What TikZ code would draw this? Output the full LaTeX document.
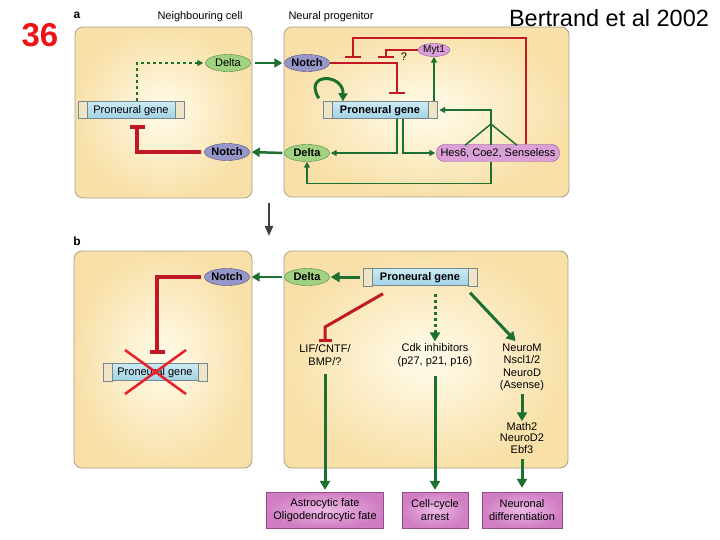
\documentclass[tikz,border=0pt]{standalone}
\usepackage{fontspec}
\setmainfont{Liberation Sans}
\usetikzlibrary{arrows.meta, shapes.geometric, positioning}

\definecolor{panelin}{RGB}{255,252,236}
\definecolor{panelout}{RGB}{248,224,168}
\definecolor{panelline}{RGB}{170,160,140}
\definecolor{dkgreen}{RGB}{28,112,48}
\definecolor{inhred}{RGB}{192,24,36}
\definecolor{xred}{RGB}{232,30,40}
\definecolor{deltafill}{RGB}{160,210,130}
\definecolor{deltaline}{RGB}{80,135,70}
\definecolor{notchfill}{RGB}{150,150,200}
\definecolor{notchline}{RGB}{80,80,130}
\definecolor{mytfill}{RGB}{218,160,215}
\definecolor{mytline}{RGB}{150,80,150}
\definecolor{genetop}{RGB}{205,235,245}
\definecolor{genebot}{RGB}{160,210,228}
\definecolor{geneline}{RGB}{120,135,140}
\definecolor{capfill}{RGB}{238,228,198}
\definecolor{boxin}{RGB}{236,185,228}
\definecolor{boxout}{RGB}{208,125,195}
\definecolor{boxline}{RGB}{150,75,140}
\definecolor{numred}{RGB}{236,20,20}

\newcommand\lblfont{\fontsize{11}{12.5}\selectfont}
\newcommand\genebar[5]{%
  \node[gene, minimum width=#3, font=#4] (#1) at #2 {#5};
  \path[genecap] (#1.north west) rectangle ([xshift=9pt]#1.south west);
  \path[genecap] (#1.north east) rectangle ([xshift=-9pt]#1.south east);
}

\begin{document}
\begin{tikzpicture}[x=1pt, y=-1pt,
  panel/.style={rounded corners=8pt, inner color=panelin, outer color=panelout, draw=panelline, line width=0.8pt},
  gene/.style={rectangle, draw=geneline, top color=genetop, bottom color=genebot, minimum height=17pt, inner sep=0pt, text height=8pt, text depth=1pt},
  genecap/.style={fill=capfill, draw=geneline, line width=0.4pt},
  delta/.style={ellipse, draw=deltaline, fill=deltafill, minimum width=45pt, minimum height=17pt, inner sep=0pt, font=\lblfont},
  notch/.style={ellipse, draw=notchline, fill=notchfill, minimum width=45pt, minimum height=17pt, inner sep=0pt, font=\lblfont\bfseries},
  pinkpill/.style={rectangle, rounded corners=8pt, draw=mytline, fill=mytfill, minimum height=17pt, inner sep=1pt, font=\lblfont},
  fatebox/.style={rectangle, draw=boxline, inner color=boxin, outer color=boxout, minimum height=36pt, inner sep=1pt, align=center, font=\lblfont},
  txt/.style={align=center, inner sep=1pt, font=\lblfont},
  gthin/.style={draw=dkgreen, line width=1.5pt, -{Triangle[width=6pt,length=6pt]}},
  gmid/.style={draw=dkgreen, line width=2.5pt, -{Triangle[width=9pt,length=8pt]}},
  gthick/.style={draw=dkgreen, line width=3pt, -{Triangle[width=10pt,length=9pt]}},
  rthin/.style={draw=inhred, line width=1.5pt, -{Bar[width=16pt]}},
  rthick/.style={draw=inhred, line width=4pt, -{Bar[width=15pt]}},
]
\useasboundingbox (0,0) rectangle (720,540);

% headings
\node[text=numred, font=\fontsize{33}{33}\selectfont\bfseries] (slideno) at (40,35) {36};
\node[font=\fontsize{23.5}{23.5}\selectfont] (cite) at (609,18) {Bertrand et al 2002};
\node[font=\fontsize{12}{12}\selectfont\bfseries] (labA) at (77,15) {a};
\node[font=\fontsize{12}{12}\selectfont\bfseries] (labB) at (77,241) {b};
\node[font=\lblfont] (hdNeigh) at (200,17) {Neighbouring cell};
\node[font=\lblfont] (hdProg) at (331,17) {Neural progenitor};

% cells
\path[panel] (75,27) rectangle (252,198);
\path[panel] (284,27) rectangle (569,197);
\path[panel] (74,251) rectangle (252,468);
\path[panel] (284,251) rectangle (568,468);

% a: neighbouring cell
\node[delta] (tlDelta) at (228,63) {Delta};
\node[notch] (tlNotch) at (227,152) {Notch};
\genebar{tlGene}{(131,110)}{105pt}{\lblfont}{Proneural gene}
\draw[dkgreen, line width=1.8pt, dash pattern=on 3pt off 3pt, -{Triangle[width=6pt,length=6pt]}]
  ([xshift=6pt]tlGene.north) |- ([xshift=-2pt]tlDelta.west);
\draw[rthick] ([xshift=-3pt]tlNotch.west) -| ([xshift=6pt,yshift=-6pt]tlGene.south);

% a: neural progenitor
\node[notch] (trNotch) at (307,63) {Notch};
\node[delta] (trDelta) at (307,153) {\bfseries Delta};
\node[ellipse, draw=mytline, fill=mytfill, minimum width=32pt, minimum height=13pt, inner sep=0pt,
  font=\fontsize{10}{11}\selectfont] (trMyt) at (434,50) {Myt1};
\node[pinkpill, minimum width=123pt] (trHes) at (498,153) {Hes6, Coe2, Senseless};
\genebar{trGene}{(380,110)}{114pt}{\lblfont\bfseries}{Proneural gene}

\coordinate (barA) at (353,58);
\coordinate (barB) at (386,58);
\coordinate (barC) at (397,94);
\coordinate (fork) at (491,124);
\draw[rthin] ([xshift=28pt]trHes.north) |- ([yshift=20pt]barA) -- (barA);
\draw[rthin] (trMyt.west) -| (barB);
\node[font=\lblfont] (qmark) at (404,57) {?};
\draw[rthin] (trNotch.east) -| (barC);

\draw[gthick, -{Triangle[width=9pt,length=8pt]}] ([xshift=-4pt,yshift=3pt]trGene.north west)
  .. controls +(-16,-26) and +(1,-28) .. ([xshift=20pt]trGene.north west);
\draw[gthin] ([xshift=54pt]trGene.north) -- (trMyt.south);
\draw[dkgreen, line width=1.5pt] ([xshift=-33pt,yshift=-1pt]trHes.north) -- (fork)
  -- ([xshift=19pt,yshift=-1pt]trHes.north);
\draw[dkgreen, line width=1.5pt] ([xshift=-7pt,yshift=-1pt]trHes.north) -- (fork);
\draw[gthin] (fork) |- ([xshift=2pt]trGene.east);
\draw[gthin] ([xshift=17pt]trGene.south) |- ([xshift=1pt]trDelta.east);
\draw[gthin] ([xshift=23pt]trGene.south) |- ([xshift=-1pt]trHes.west);
\draw[gthin] ([xshift=-7pt]trHes.south) -- ++(0,22) -| (trDelta.south);

% between cells
\draw[gmid, shorten <=4pt, shorten >=2pt] (tlDelta.east) -- (trNotch.west);
\draw[gmid, shorten <=2pt, shorten >=2pt] (trDelta.west) -- (tlNotch.east);

% a to b
\coordinate (downTop) at (269,203);
\coordinate (downEnd) at (269,236);
\draw[black!75, line width=2pt, -{Triangle[width=8pt,length=10pt]}] (downTop) -- (downEnd);

% b: neighbouring cell
\node[notch] (blNotch) at (227,277) {Notch};
\genebar{blGene}{(155,372)}{103pt}{\lblfont}{Proneural gene}
\draw[rthick] ([xshift=-3pt]blNotch.west) -| ([xshift=2pt,yshift=9pt]blGene.north);
\draw[xred, line width=2.5pt] ([xshift=-30pt,yshift=22pt]blGene.center) -- ([xshift=31pt,yshift=-22pt]blGene.center);
\draw[xred, line width=2.5pt] ([xshift=31pt,yshift=22pt]blGene.center) -- ([xshift=-30pt,yshift=-22pt]blGene.center);

% b: neural progenitor
\node[delta] (brDelta) at (307,277) {\bfseries Delta};
\genebar{brGene}{(420,277)}{114pt}{\lblfont\bfseries}{Proneural gene}
\draw[gthick, shorten <=3pt, shorten >=1pt] (brGene.west) -- (brDelta.east);
\draw[gmid, shorten <=2pt, shorten >=2pt] (brDelta.west) -- (blNotch.east);

\node[txt] (brLif) at (325,355) {LIF/CNTF/\\BMP/?};
\node[txt] (brCdk) at (435,355) {Cdk inhibitors\\(p27, p21, p16)};
\node[txt] (brNeuroM) at (522,367.5) {NeuroM\\Nscl1/2\\NeuroD\\(Asense)};
\node[txt, font=\fontsize{11}{11.5}\selectfont] (brMath) at (522,438) {Math2\\NeuroD2\\Ebf3};

\coordinate (redKnee) at (325,327);
\draw[rthick, line width=3pt, -{Bar[width=13pt]}, shorten >=2pt]
  ([xshift=-37pt,yshift=-8pt]brGene.south) -- (redKnee) -- (brLif.north);
\draw[gthick, dash pattern=on 3pt off 3pt, shorten >=1pt] ([xshift=15pt,yshift=-8pt]brGene.south) -- (brCdk.north);
\draw[gthick, shorten >=2pt] ([xshift=50pt,yshift=-7pt]brGene.south) -- ([xshift=-5pt]brNeuroM.north);
\draw[gthick, shorten <=2pt] (brNeuroM.south) -- (brMath.north);

\node[fatebox, minimum width=117pt] (brAstro) at (325,510) {Astrocytic fate\\Oligodendrocytic fate};
\node[fatebox, minimum width=66pt] (brArrest) at (435,510) {Cell-cycle\\arrest};
\node[fatebox, minimum width=80pt] (brNeuron) at (522,510) {Neuronal\\differentiation};
\draw[gthick, shorten <=8pt, shorten >=2pt] (brLif.south) -- (brAstro.north);
\draw[gthick, shorten <=8pt, shorten >=2pt] (brCdk.south) -- (brArrest.north);
\draw[gthick, shorten <=4pt, shorten >=4pt] (brMath.south) -- (brNeuron.north);
\end{tikzpicture}
\end{document}
